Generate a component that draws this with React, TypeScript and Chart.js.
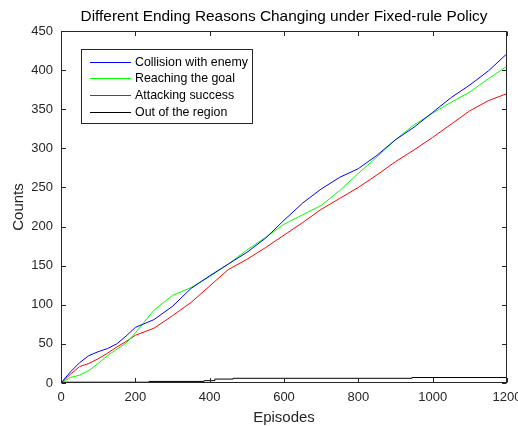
import React, { useEffect, useRef } from "react";
import { Chart, registerables } from "chart.js";
Chart.register(...registerables);

const chartTitle = "Different Ending Reasons Changing under Fixed-rule Policy";
const xTitle = "Episodes";
const yTitle = "Counts";

const episodes = [0, 25, 50, 75, 100, 125, 150, 175, 200, 250, 300, 350, 400, 450, 500, 550, 600, 650, 700, 750, 800, 850, 900, 950, 1000, 1050, 1100, 1150, 1200];
const collision = [0, 14, 26, 35, 40, 44, 50, 60, 71, 81, 98, 121, 137, 152, 167, 185, 208, 230, 248, 263, 274, 291, 311, 327, 346, 365, 381, 399, 421];
const reaching = [0, 7, 10, 16, 25, 35, 43, 51, 64, 93, 112, 122, 136, 152, 170, 186, 203, 215, 227, 246, 268, 289, 311, 330, 345, 359, 372, 389, 405];
const attacking = [0, 11, 21, 25, 31, 38, 46, 53, 61, 70, 86, 103, 124, 145, 158, 173, 189, 205, 222, 236, 250, 266, 283, 298, 314, 331, 348, 361, 370];
const outEpisodes = [0, 237, 385, 414, 463, 944, 1060, 1200];
const outCounts = [0, 1, 2, 3, 5, 6, 7, 7];

const seriesNames = ["Collision with enemy", "Reaching the goal", "Attacking success", "Out of the region"];
const seriesColors = ["#0000ff", "#00ff00", "#ff0000", "#000000"];

const xMax = 1200;
const yMax = 450;
const xStep = 200;
const yStep = 50;

const W = 518;
const H = 426;
const PL = 61;
const PT = 31;
const PR = 507;
const PB = 383;

const FONT = "'Liberation Sans', Arial, Helvetica, sans-serif";
const TXT = "#262626";

const toPts = (xs: number[], ys: number[]) => xs.map((x, i) => ({ x, y: ys[i] }));

const framePlugin = {
  id: "matlabFrame",
  afterDraw(chart: any) {
    const ctx = chart.ctx as CanvasRenderingContext2D;
    const xs = chart.scales.x;
    const ys = chart.scales.y;
    const l = Math.round(xs.left) + 0.5;
    const r = Math.round(xs.right) - 0.5;
    const t = Math.round(ys.top) + 0.5;
    const b = Math.round(ys.bottom) - 0.5;
    ctx.save();
    ctx.strokeStyle = TXT;
    ctx.lineWidth = 1;
    ctx.strokeRect(l, t, r - l, b - t);
    const tl = 4.5;
    ctx.beginPath();
    xs.ticks.forEach((tk: any) => {
      const px = Math.round(xs.getPixelForValue(tk.value)) + 0.5;
      ctx.moveTo(px, b);
      ctx.lineTo(px, b - tl);
      ctx.moveTo(px, t);
      ctx.lineTo(px, t + tl);
    });
    ys.ticks.forEach((tk: any) => {
      const py = Math.round(ys.getPixelForValue(tk.value)) + 0.5;
      ctx.moveTo(l, py);
      ctx.lineTo(l + tl, py);
      ctx.moveTo(r, py);
      ctx.lineTo(r - tl, py);
    });
    ctx.stroke();

    // title
    ctx.fillStyle = "#000";
    ctx.font = `15.4px ${FONT}`;
    ctx.textAlign = "center";
    ctx.textBaseline = "middle";
    ctx.fillText(chartTitle, (xs.left + xs.right) / 2, 17);

    // axis titles
    ctx.fillStyle = TXT;
    ctx.font = `15px ${FONT}`;
    ctx.fillText(xTitle, (xs.left + xs.right) / 2, 418);
    ctx.save();
    ctx.translate(19, (ys.top + ys.bottom) / 2);
    ctx.rotate(-Math.PI / 2);
    ctx.fillText(yTitle, 0, 0);
    ctx.restore();

    // legend
    const lx = 81.5, ly = 49.5, lw = 171, lh = 74;
    ctx.fillStyle = "#fff";
    ctx.fillRect(lx, ly, lw, lh);
    ctx.strokeStyle = TXT;
    ctx.strokeRect(lx, ly, lw, lh);
    ctx.font = `12.4px ${FONT}`;
    ctx.textAlign = "left";
    ctx.textBaseline = "middle";
    const rows = [62.5, 78.5, 95.5, 112.5];
    seriesNames.forEach((name, i) => {
      ctx.strokeStyle = seriesColors[i];
      ctx.lineWidth = 1;
      ctx.beginPath();
      ctx.moveTo(90, rows[i]);
      ctx.lineTo(131, rows[i]);
      ctx.stroke();
      ctx.fillStyle = "#000";
      ctx.fillText(name, 135, rows[i] + 0.5);
    });
    ctx.restore();
  },
};

export default function App() {
  const ref = useRef<HTMLCanvasElement | null>(null);
  useEffect(() => {
    if (!ref.current) return;
    const mk = (i: number, data: any, stepped: any = false) => ({
      label: seriesNames[i],
      data,
      borderColor: seriesColors[i],
      backgroundColor: seriesColors[i],
      borderWidth: 1,
      pointRadius: 0,
      tension: 0,
      stepped,
      fill: false,
    });
    const chart = new Chart(ref.current, {
      type: "line",
      data: {
        datasets: [
          mk(0, toPts(episodes, collision)),
          mk(1, toPts(episodes, reaching)),
          mk(2, toPts(episodes, attacking)),
          mk(3, toPts(outEpisodes, outCounts), "after"),
        ] as any,
      },
      options: {
        responsive: false,
        animation: false,
        layout: { padding: { left: 0, right: W - PR, top: PT, bottom: 0 } },
        plugins: { legend: { display: false }, title: { display: false }, tooltip: { enabled: false } },
        scales: {
          x: {
            type: "linear",
            min: 0,
            max: xMax,
            grid: { display: false, drawTicks: false },
            border: { display: false },
            ticks: {
              stepSize: xStep,
              color: TXT,
              font: { family: FONT, size: 13 },
              padding: 7,
              maxRotation: 0,
              callback: (v: any) => String(v),
            },
            afterFit: (s: any) => {
              s.height = H - PB;
              s.paddingLeft = 0;
              s.paddingRight = 0;
            },
          },
          y: {
            type: "linear",
            min: 0,
            max: yMax,
            grid: { display: false, drawTicks: false },
            border: { display: false },
            ticks: { stepSize: yStep, color: TXT, font: { family: FONT, size: 13 }, padding: 8, callback: (v: any) => String(v) },
            afterFit: (s: any) => {
              s.width = PL;
              s.paddingTop = 0;
              s.paddingBottom = 0;
            },
          },
        },
      } as any,
      plugins: [framePlugin],
    });
    return () => chart.destroy();
  }, []);
  return (
    <div style={{ position: "absolute", left: 0, top: 0, width: W, height: H, background: "#fff", overflow: "hidden" }}>
      <canvas ref={ref} width={W} height={H} style={{ width: W, height: H, display: "block" }} />
    </div>
  );
}
